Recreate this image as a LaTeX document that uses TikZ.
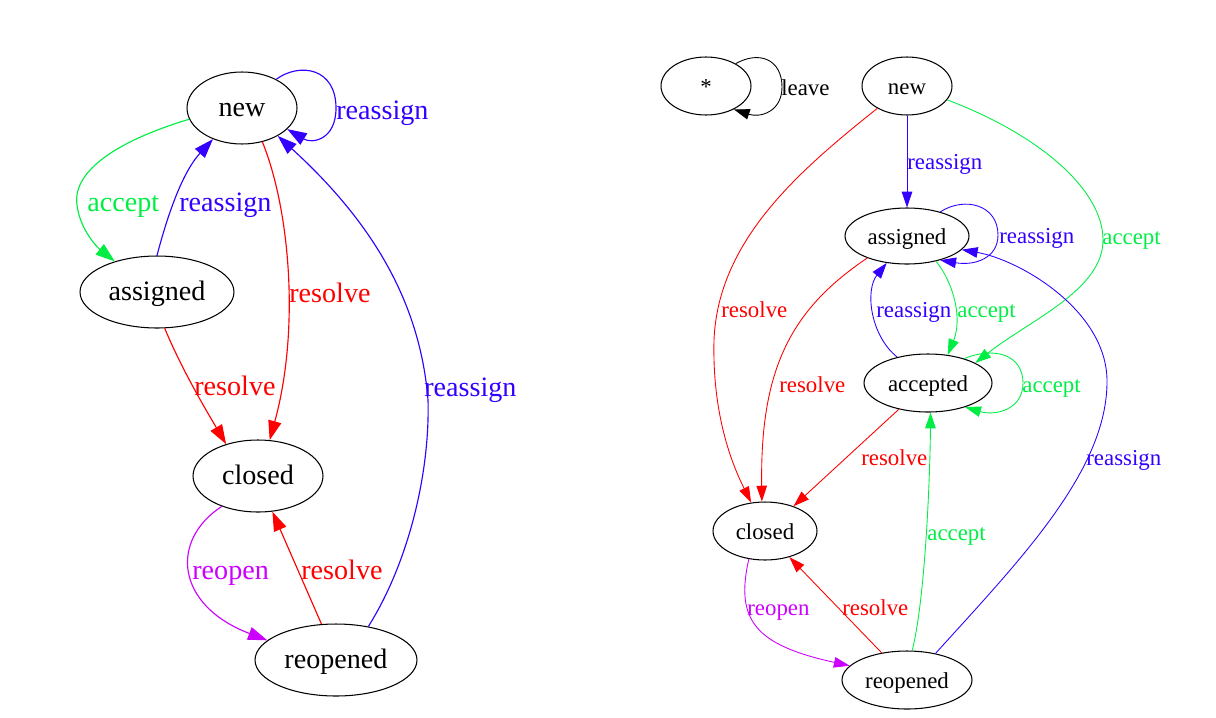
\documentclass[tikz,border=0pt]{standalone}
\usepackage{fontspec}
\setmainfont{Liberation Serif}
\usetikzlibrary{
    arrows.meta,
    shapes.geometric
}
\definecolor{edgeBlue}  {RGB}{51, 0,255}
\definecolor{edgeGreen} {RGB}{ 0,238, 68}
\definecolor{edgeRed}   {RGB}{255, 0,  0}
\definecolor{edgePurple}{RGB}{204, 0,255}
\newcommand{\leftsz}{\fontsize{16}{19}\selectfont}
\newcommand{\rightsz}{\fontsize{13}{16}\selectfont}
\tikzset{
  lstate/.style = {draw, ellipse, inner sep=0pt, minimum height=1.44cm,
                   text height=2.1ex, text depth=0pt,
                   font=\leftsz, line width=0.6pt},
  rstate/.style = {draw, ellipse, inner sep=0pt, minimum height=1.16cm,
                   text height=2.1ex, text depth=0pt,
                   font=\rightsz, line width=0.6pt},
  larr/.style   = {-{Triangle[length=11pt, width=7.5pt]}, line width=0.65pt},
  rarr/.style   = {-{Triangle[length=9pt, width=6pt]}, line width=0.5pt},
  llbl/.style   = {anchor=base west, inner sep=0pt, font=\leftsz},
  rlbl/.style   = {anchor=base west, inner sep=0pt, font=\rightsz}
}

\begin{document}
\begin{tikzpicture}[x=0.02cm, y=-0.02cm]
  \useasboundingbox (0,0) rectangle (1216,717);

  %% ── Left graph: states ────────────────────────────────────────
  \node[lstate, minimum width=2.20cm] (lnew)      at (242,108) {new};
  \node[lstate, minimum width=3.08cm] (lassigned) at (157,292) {assigned};
  \node[lstate, minimum width=2.60cm] (lclosed)   at (258,476) {closed};
  \node[lstate, minimum width=3.24cm] (lreopened) at (336,660) {reopened};

  %% ── Left graph: transitions ───────────────────────────────────
  % new -> new
  \draw[larr, edgeBlue] (lnew.40) .. controls (300,62) and (336,68) .. (336,108)
    .. controls (336,140) and (312,144) .. (lnew.-25);
  % new -> assigned
  \draw[larr, edgeGreen] (lnew.192) .. controls (120,140) and (72,170) .. (77,205)
    .. controls (80,230) and (98,248) .. (lassigned.144);
  % assigned -> new
  \draw[larr, edgeBlue] (lassigned.90) .. controls (165,225) and (180,175) .. (lnew.227);
  % new -> closed
  \draw[larr, edgeRed] (lnew.-59) .. controls (290,210) and (300,330) .. (lclosed.72);
  % assigned -> closed
  \draw[larr, edgeRed] (lassigned.-78) .. controls (180,365) and (200,400) .. (lclosed.135);
  % reopened -> new
  \draw[larr, edgeBlue] (lreopened.46) .. controls (410,560) and (430,470) .. (428,400)
    .. controls (420,300) and (370,220) .. (lnew.-38);
  % closed -> reopened
  \draw[larr, edgePurple] (lclosed.-140) .. controls (170,540) and (175,605) .. (lreopened.164);
  % reopened -> closed
  \draw[larr, edgeRed] (lreopened.112) -- (lclosed.-68);

  %% ── Left graph: labels ────────────────────────────────────────
  \node[llbl, edgeBlue]   (lt1) at (336,119) {reassign};
  \node[llbl, edgeGreen]  (lt2) at ( 87,211) {accept};
  \node[llbl, edgeBlue]   (lt3) at (179,211) {reassign};
  \node[llbl, edgeRed]    (lt4) at (289,302) {resolve};
  \node[llbl, edgeRed]    (lt5) at (194,395) {resolve};
  \node[llbl, edgeBlue]   (lt6) at (424,396) {reassign};
  \node[llbl, edgePurple] (lt7) at (192,579) {reopen};
  \node[llbl, edgeRed]    (lt8) at (301,579) {resolve};

  %% ── Right graph: states ───────────────────────────────────────
  \node[rstate, minimum width=1.80cm] (rstar)     at (706, 86) {*};
  \node[rstate, minimum width=1.80cm] (rnew)      at (907, 86) {new};
  \node[rstate, minimum width=2.48cm, minimum height=1.12cm]
                                      (rassigned) at (907,236) {assigned};
  \node[rstate, minimum width=2.56cm] (raccepted) at (928,383) {accepted};
  \node[rstate, minimum width=2.08cm] (rclosed)   at (765,531) {closed};
  \node[rstate, minimum width=2.60cm] (rreopened) at (907,680) {reopened};

  %% ── Right graph: transitions ──────────────────────────────────
  % * -> *
  \draw[rarr, black] (rstar.37) .. controls (760,50) and (782,60) .. (782,87)
    .. controls (782,112) and (760,118) .. (rstar.-40);
  % new -> assigned
  \draw[rarr, edgeBlue] (rnew) -- (rassigned);
  % new -> closed
  \draw[rarr, edgeRed] (rnew.217) .. controls (800,170) and (718,240) .. (714,340)
    .. controls (712,420) and (735,470) .. (rclosed.116);
  % new -> accepted
  \draw[rarr, edgeGreen] (rnew.-19) .. controls (1040,135) and (1103,190) .. (1103,240)
    .. controls (1103,290) and (1030,320) .. (raccepted.23);
  % assigned -> assigned
  \draw[rarr, edgeBlue] (rassigned.36) .. controls (965,196) and (998,205) .. (998,235)
    .. controls (998,258) and (975,266) .. (rassigned.-36);
  % assigned -> closed
  \draw[rarr, edgeRed] (rassigned.209) .. controls (790,310) and (760,370) .. (rclosed.96);
  % accepted -> assigned
  \draw[rarr, edgeBlue] (raccepted.140) .. controls (870,335) and (865,290) .. (rassigned.233);
  % assigned -> accepted
  \draw[rarr, edgeGreen] (rassigned.-41) .. controls (955,285) and (962,320) .. (raccepted.55);
  % accepted -> accepted
  \draw[rarr, edgeGreen] (raccepted.34) .. controls (995,346) and (1023,355) .. (1023,383)
    .. controls (1023,410) and (995,416) .. (raccepted.-33);
  % accepted -> closed
  \draw[rarr, edgeRed] (raccepted.222) -- (rclosed.41);
  % reopened -> accepted
  \draw[rarr, edgeGreen] (rreopened.80) .. controls (925,600) and (930,480) .. (raccepted.-85);
  % reopened -> assigned
  \draw[rarr, edgeBlue] (rreopened.43) .. controls (1020,560) and (1108,470) .. (1107,380)
    .. controls (1106,310) and (1020,260) .. (rassigned.-14);
  % closed -> reopened
  \draw[rarr, edgePurple] (rclosed.-120) .. controls (735,620) and (755,645) .. (rreopened.166);
  % reopened -> closed
  \draw[rarr, edgeRed] (rreopened.133) -- (rclosed.-47);

  %% ── Right graph: labels ───────────────────────────────────────
  \node[rlbl, black]      (rt1)  at ( 781, 95) {leave};
  \node[rlbl, edgeBlue]   (rt2)  at ( 907,169) {reassign};
  \node[rlbl, edgeRed]    (rt3)  at ( 721,317) {resolve};
  \node[rlbl, edgeGreen]  (rt4)  at (1102,244) {accept};
  \node[rlbl, edgeBlue]   (rt5)  at ( 999,243) {reassign};
  \node[rlbl, edgeRed]    (rt6)  at ( 779,392) {resolve};
  \node[rlbl, edgeBlue]   (rt7)  at ( 876,317) {reassign};
  \node[rlbl, edgeGreen]  (rt8)  at ( 957,317) {accept};
  \node[rlbl, edgeGreen]  (rt9)  at (1022,392) {accept};
  \node[rlbl, edgeRed]    (rt10) at ( 861,465) {resolve};
  \node[rlbl, edgeGreen]  (rt11) at ( 927,540) {accept};
  \node[rlbl, edgeBlue]   (rt12) at (1086,465) {reassign};
  \node[rlbl, edgePurple] (rt13) at ( 747,615) {reopen};
  \node[rlbl, edgeRed]    (rt14) at ( 842,615) {resolve};

\end{tikzpicture}
\end{document}
